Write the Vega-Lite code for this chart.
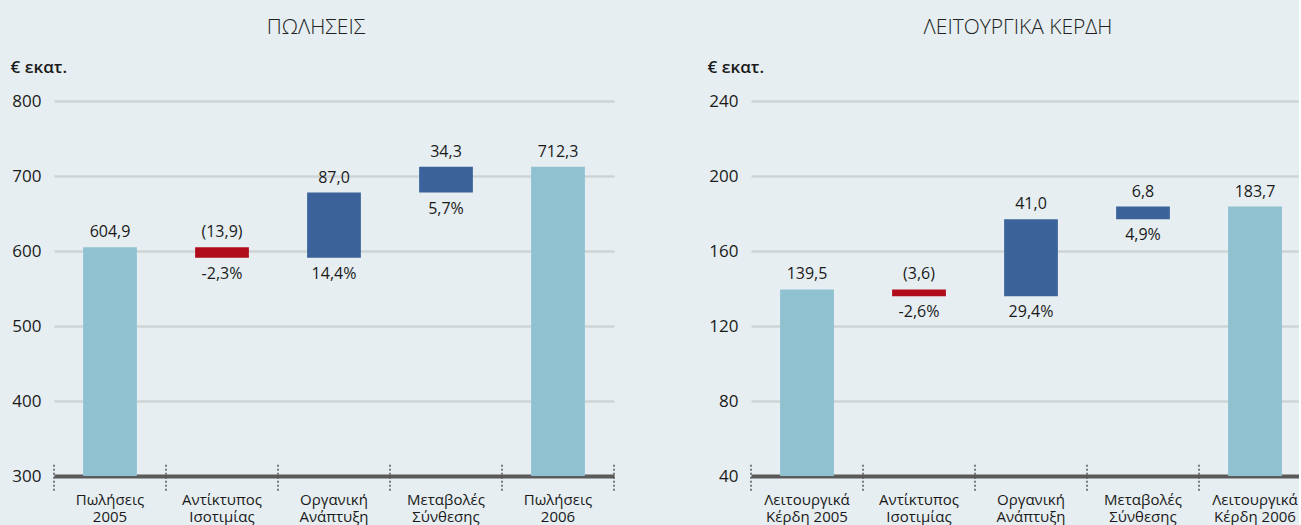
{
  "$schema": "https://vega.github.io/schema/vega-lite/v6.json",
  "background": "#e6eef1",
  "padding": {"left": 10, "top": 17, "right": -12, "bottom": 2},
  "spacing": 92,
  "config": {
    "view": {"stroke": null},
    "font": "Open Sans",
    "axis": {"labelFont": "Open Sans", "titleFont": "Open Sans"},
    "title": {"font": "Open Sans", "fontSize": 21, "fontWeight": 300, "color": "#222222", "offset": 20}
  },
  "datasets": {
    "sales": [
      {"order": 1, "cat": "Πωλήσεις|2005", "lo": 300, "hi": 604.9, "kind": "total", "top": "604,9", "bottom": ""},
      {"order": 2, "cat": "Αντίκτυπος|Ισοτιμίας", "lo": 591.0, "hi": 604.9, "kind": "neg", "top": "(13,9)", "bottom": "-2,3%"},
      {"order": 3, "cat": "Οργανική|Ανάπτυξη", "lo": 591.0, "hi": 678.0, "kind": "pos", "top": "87,0", "bottom": "14,4%"},
      {"order": 4, "cat": "Μεταβολές|Σύνθεσης", "lo": 678.0, "hi": 712.3, "kind": "pos", "top": "34,3", "bottom": "5,7%"},
      {"order": 5, "cat": "Πωλήσεις|2006", "lo": 300, "hi": 712.3, "kind": "total", "top": "712,3", "bottom": ""}
    ],
    "profit": [
      {"order": 1, "cat": "Λειτουργικά|Κέρδη 2005", "lo": 40, "hi": 139.5, "kind": "total", "top": "139,5", "bottom": ""},
      {"order": 2, "cat": "Αντίκτυπος|Ισοτιμίας", "lo": 135.9, "hi": 139.5, "kind": "neg", "top": "(3,6)", "bottom": "-2,6%"},
      {"order": 3, "cat": "Οργανική|Ανάπτυξη", "lo": 135.9, "hi": 176.9, "kind": "pos", "top": "41,0", "bottom": "29,4%"},
      {"order": 4, "cat": "Μεταβολές|Σύνθεσης", "lo": 176.9, "hi": 183.7, "kind": "pos", "top": "6,8", "bottom": "4,9%"},
      {"order": 5, "cat": "Λειτουργικά|Κέρδη 2006", "lo": 40, "hi": 183.7, "kind": "total", "top": "183,7", "bottom": ""}
    ]
  },
  "hconcat": [
    {
      "width": 560,
      "height": 375,
      "title": {"text": "ΠΩΛΗΣΕΙΣ", "dx": -18},
      "data": {"name": "sales"},
      "encoding": {
        "x": {
          "field": "cat", "type": "nominal", "sort": null,
          "scale": {"paddingInner": 0, "paddingOuter": 0},
          "axis": {"title": null, "labelAngle": 0, "domain": true, "domainColor": "#5a5a5a", "domainWidth": 4, "ticks": false, "labelPadding": 16, "labelFontSize": 15, "labelColor": "#1a1a1a", "labelLineHeight": 17, "labelBaseline": "top", "labelExpr": "split(datum.label, '|')"}
        }
      },
      "layer": [
        {
          "mark": {"type": "bar", "width": {"band": 0.48}},
          "encoding": {
            "y": {"field": "lo", "type": "quantitative", "scale": {"domain": [300, 800], "nice": false, "zero": false},
              "axis": {"title": "€ εκατ.", "titleAngle": 0, "titleAlign": "left", "titleBaseline": "middle", "titleX": -44, "titleY": -34, "titleFontSize": 17, "titleFontWeight": 600, "titleColor": "#1a1a1a",
                "values": [300, 400, 500, 600, 700, 800], "grid": true, "gridColor": "#cfd3d5", "gridWidth": 2.5, "domain": false, "ticks": false, "labelPadding": 13, "labelFontSize": 17, "labelColor": "#1a1a1a"}},
            "y2": {"field": "hi"},
            "color": {"field": "kind", "type": "nominal", "legend": null, "scale": {"domain": ["total", "neg", "pos"], "range": ["#8fc1d1", "#b00c1c", "#3c6399"]}}
          }
        },
        {
          "mark": {"type": "text", "dy": -15, "fontSize": 16, "color": "#1a1a1a"},
          "encoding": {"y": {"field": "hi", "type": "quantitative"}, "text": {"field": "top"}}
        },
        {
          "mark": {"type": "text", "dy": 16, "fontSize": 16, "color": "#1a1a1a"},
          "encoding": {"y": {"field": "lo", "type": "quantitative"}, "text": {"field": "bottom"}}
        },
        {
          "mark": {"type": "rule", "color": "#555555", "strokeWidth": 1.5, "strokeDash": [2, 2]},
          "encoding": {"x": {"field": "cat", "type": "nominal", "sort": null, "bandPosition": 0}, "y": {"datum": 315, "type": "quantitative"}, "y2": {"datum": 279}}
        },
        {
          "transform": [{"filter": "datum.order == 5"}],
          "mark": {"type": "rule", "color": "#555555", "strokeWidth": 1.5, "strokeDash": [2, 2]},
          "encoding": {"x": {"field": "cat", "type": "nominal", "sort": null, "bandPosition": 1}, "y": {"datum": 315, "type": "quantitative"}, "y2": {"datum": 279}}
        }
      ]
    },
    {
      "width": 560,
      "height": 375,
      "title": {"text": "ΛΕΙΤΟΥΡΓΙΚΑ ΚΕΡΔΗ", "dx": -13},
      "data": {"name": "profit"},
      "encoding": {
        "x": {
          "field": "cat", "type": "nominal", "sort": null,
          "scale": {"paddingInner": 0, "paddingOuter": 0},
          "axis": {"title": null, "labelAngle": 0, "domain": true, "domainColor": "#5a5a5a", "domainWidth": 4, "ticks": false, "labelPadding": 16, "labelFontSize": 15, "labelColor": "#1a1a1a", "labelLineHeight": 17, "labelBaseline": "top", "labelExpr": "split(datum.label, '|')"}
        }
      },
      "layer": [
        {
          "mark": {"type": "bar", "width": {"band": 0.48}},
          "encoding": {
            "y": {"field": "lo", "type": "quantitative", "scale": {"domain": [40, 240], "nice": false, "zero": false},
              "axis": {"title": "€ εκατ.", "titleAngle": 0, "titleAlign": "left", "titleBaseline": "middle", "titleX": -44, "titleY": -34, "titleFontSize": 17, "titleFontWeight": 600, "titleColor": "#1a1a1a",
                "values": [40, 80, 120, 160, 200, 240], "grid": true, "gridColor": "#cfd3d5", "gridWidth": 2.5, "domain": false, "ticks": false, "labelPadding": 13, "labelFontSize": 17, "labelColor": "#1a1a1a"}},
            "y2": {"field": "hi"},
            "color": {"field": "kind", "type": "nominal", "legend": null, "scale": {"domain": ["total", "neg", "pos"], "range": ["#8fc1d1", "#b00c1c", "#3c6399"]}}
          }
        },
        {
          "mark": {"type": "text", "dy": -15, "fontSize": 16, "color": "#1a1a1a"},
          "encoding": {"y": {"field": "hi", "type": "quantitative"}, "text": {"field": "top"}}
        },
        {
          "mark": {"type": "text", "dy": 16, "fontSize": 16, "color": "#1a1a1a"},
          "encoding": {"y": {"field": "lo", "type": "quantitative"}, "text": {"field": "bottom"}}
        },
        {
          "mark": {"type": "rule", "color": "#555555", "strokeWidth": 1.5, "strokeDash": [2, 2]},
          "encoding": {"x": {"field": "cat", "type": "nominal", "sort": null, "bandPosition": 0}, "y": {"datum": 46, "type": "quantitative"}, "y2": {"datum": 31.5}}
        }
      ]
    }
  ],
  "resolve": {"scale": {"color": "shared"}}
}
